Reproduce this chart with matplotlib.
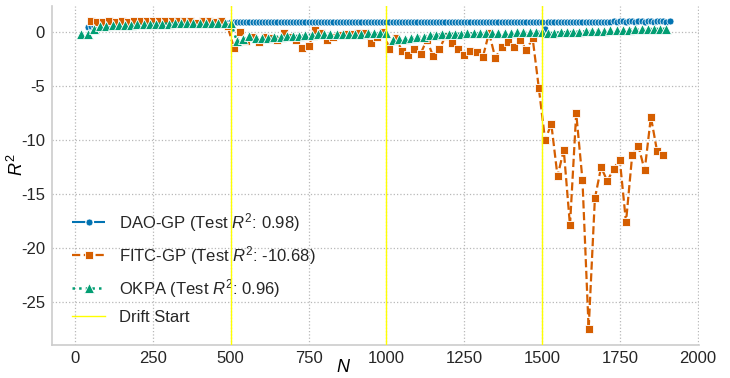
import matplotlib
matplotlib.use("Agg")
import matplotlib.pyplot as plt
import numpy as np

# ---------------- data ----------------
dao_n = list(range(40, 1920, 10))
dao_r2 = [
    # 40-490
    0.45, 0.55, 0.60, 0.58, 0.60, 0.62, 0.60, 0.63, 0.62, 0.60,
    0.63, 0.62, 0.60, 0.62, 0.58, 0.60, 0.63, 0.62, 0.60, 0.62,
    0.60, 0.62, 0.64, 0.62, 0.63, 0.65, 0.68, 0.70, 0.72, 0.74,
    0.75, 0.76, 0.78, 0.79, 0.80, 0.81, 0.82, 0.83, 0.84, 0.85,
    0.86, 0.86, 0.87, 0.88, 0.88, 0.89,
    # 500-990
    0.92, 0.93, 0.92, 0.93, 0.94, 0.93, 0.92, 0.93, 0.94, 0.93,
    0.92, 0.93, 0.93, 0.94, 0.93, 0.92, 0.93, 0.94, 0.93, 0.93,
    0.94, 0.95, 0.94, 0.95, 0.94, 0.95, 0.95, 0.94, 0.95, 0.94,
    0.95, 0.94, 0.95, 0.95, 0.94, 0.95, 0.94, 0.95, 0.95, 0.94,
    0.95, 0.94, 0.95, 0.94, 0.95, 0.95, 0.94, 0.95, 0.94, 0.95,
    # 1000-1490
    0.94, 0.93, 0.94, 0.94, 0.93, 0.94, 0.95, 0.94, 0.94, 0.95,
    0.94, 0.95, 0.95, 0.94, 0.95, 0.95, 0.96, 0.95, 0.96, 0.95,
    0.96, 0.96, 0.95, 0.96, 0.96, 0.97, 0.96, 0.97, 0.96, 0.97,
    0.97, 0.96, 0.97, 0.97, 0.96, 0.97, 0.97, 0.96, 0.97, 0.97,
    0.96, 0.97, 0.97, 0.96, 0.97, 0.97, 0.96, 0.97, 0.96, 0.95,
    # 1500-1910
    0.90, 0.25, 0.92, 0.93, 0.93, 0.94, 0.93, 0.94, 0.94, 0.95,
    0.94, 0.95, 0.95, 0.96, 0.95, 0.96, 0.96, 0.97, 0.97, 0.98,
    0.98, 0.99, 0.99, 1.00, 0.99, 1.00, 1.00, 0.99, 1.00, 1.00,
    0.99, 1.00, 1.00, 0.99, 1.00, 1.00, 0.99, 1.00, 1.00, 1.00,
    0.99, 1.00,
]

fitc_n = list(range(50, 1900, 20))
fitc_r2 = [
    # 50-490
    1.00, 0.95, 0.98, 1.00, 0.95, 1.02, 0.97, 1.00, 1.02, 1.00,
    1.00, 1.02, 1.00, 1.03, 1.00, 1.02, 1.00, 0.85, 1.00, 1.02,
    0.95, 1.00, 0.55,
    # 510-990
    -1.45, 0.00, -0.80, -0.45, -0.95, -0.40, -0.55, -0.75, -0.10, -0.40,
    -0.75, -1.45, -1.30, 0.20, -0.05, -0.75, -0.40, -0.25, -0.20, -0.15,
    -0.10, -0.10, -1.00, -0.45, 0.00,
    # 1010-1490
    -1.55, -0.55, -1.70, -2.10, -1.55, -2.00, -0.70, -2.20, -1.60, -0.35,
    -1.00, -1.55, -2.10, -1.70, -1.80, -2.30, -0.05, -2.40, -1.40, -0.90,
    -1.40, -0.75, -1.65, -0.55, -5.20,
    # 1510-1890
    -10.00, -8.50, -13.35, -10.90, -17.90, -7.50, -13.65, -27.50, -15.40, -12.50,
    -13.80, -12.65, -11.80, -17.60, -11.35, -10.55, -12.80, -7.85, -11.05, -11.35,
]

okpa_n = list(range(20, 1920, 20))
okpa_r2 = [
    # 20-500
    -0.15, -0.20, 0.30, 0.55, 0.60, 0.62, 0.65, 0.68, 0.70, 0.72,
    0.75, 0.76, 0.78, 0.80, 0.80, 0.82, 0.83, 0.84, 0.85, 0.86,
    0.86, 0.87, 0.88, 0.88, 0.89,
    # 520-1000
    -0.85, -0.65, -0.35, -0.50, -0.55, -0.50, -0.45, -0.40, -0.38, -0.35,
    -0.35, -0.30, -0.25, -0.18, -0.16, -0.16, -0.16, -0.15, -0.15, -0.15,
    -0.13, -0.12, -0.10, -0.10, -0.10,
    # 1020-1500
    -0.75, -0.65, -0.60, -0.55, -0.45, -0.40, -0.30, -0.25, -0.20, -0.16,
    -0.15, -0.14, -0.12, -0.10, -0.10, -0.08, -0.07, -0.05, -0.05, -0.03,
    -0.02, 0.00, 0.02, 0.03, 0.05,
    # 1520-1900
    -0.10, -0.05, -0.02, 0.00, 0.02, 0.05, 0.08, 0.10, 0.12, 0.15,
    0.18, 0.20, 0.22, 0.24, 0.25, 0.27, 0.28, 0.30, 0.30, 0.32,
]

drift_points = [500, 1000, 1500]

labels = [
    "DAO-GP (Test $R^2$: 0.98)",
    "FITC-GP (Test $R^2$: -10.68)",
    "OKPA (Test $R^2$: 0.96)",
    "Drift Start",
]
colors = ["#0173b2", "#d55e00", "#029e73", "#ffff00"]

# ---------------- style ----------------
plt.rcParams["font.family"] = ["Liberation Sans", "DejaVu Sans"]
plt.rcParams["mathtext.fontset"] = "custom"
plt.rcParams["mathtext.rm"] = "Liberation Sans"
plt.rcParams["mathtext.it"] = "Liberation Sans:italic"
plt.rcParams["text.color"] = "#262626"
plt.rcParams["axes.unicode_minus"] = False

fig = plt.figure(figsize=(7.3, 3.78), dpi=100)
ax = fig.add_axes([0.0712, 0.0886, 0.9575 - 0.0712, 0.985 - 0.0886])

ax.plot(dao_n, dao_r2, linestyle="-.", marker="o", color=colors[0], lw=1.5,
        markersize=5, markeredgecolor="white", markeredgewidth=0.5,
        label=labels[0], zorder=3)
ax.plot(fitc_n, fitc_r2, linestyle="--", marker="s", color=colors[1], lw=1.6,
        markersize=6, markeredgecolor="white", markeredgewidth=0.6,
        label=labels[1], zorder=4)
ax.plot(okpa_n, okpa_r2, linestyle=":", marker="^", color=colors[2], lw=1.8,
        markersize=6.5, markeredgecolor="white", markeredgewidth=0.6,
        label=labels[2], zorder=5)
for i, d in enumerate(drift_points):
    ax.axvline(d, color=colors[3], lw=1.0, zorder=6,
               label=labels[3] if i == 0 else None)

ax.set_xticks([0, 250, 500, 750, 1000, 1250, 1500, 1750, 2000])
ax.set_yticks([0, -5, -10, -15, -20, -25])
ax.tick_params(axis="both", labelsize=12, length=0, pad=5, colors="#262626")
ax.grid(True, linestyle=":", color="#b8b8b8", lw=0.9)
ax.set_axisbelow(True)
for s in ["top", "right"]:
    ax.spines[s].set_visible(False)
for s in ["left", "bottom"]:
    ax.spines[s].set_color("#cccccc")
    ax.spines[s].set_linewidth(1.2)

ax.set_xlabel("$N$", fontsize=13)
ax.set_ylabel("$R^2$", fontsize=13)
ax.xaxis.set_label_coords(0.45, -0.043)
ax.yaxis.set_label_coords(-0.038, 0.53)

leg = ax.legend(loc="lower left", frameon=False, fontsize=12,
                borderaxespad=0.8, labelspacing=0.6)

fig.savefig("out.png", dpi=100)
